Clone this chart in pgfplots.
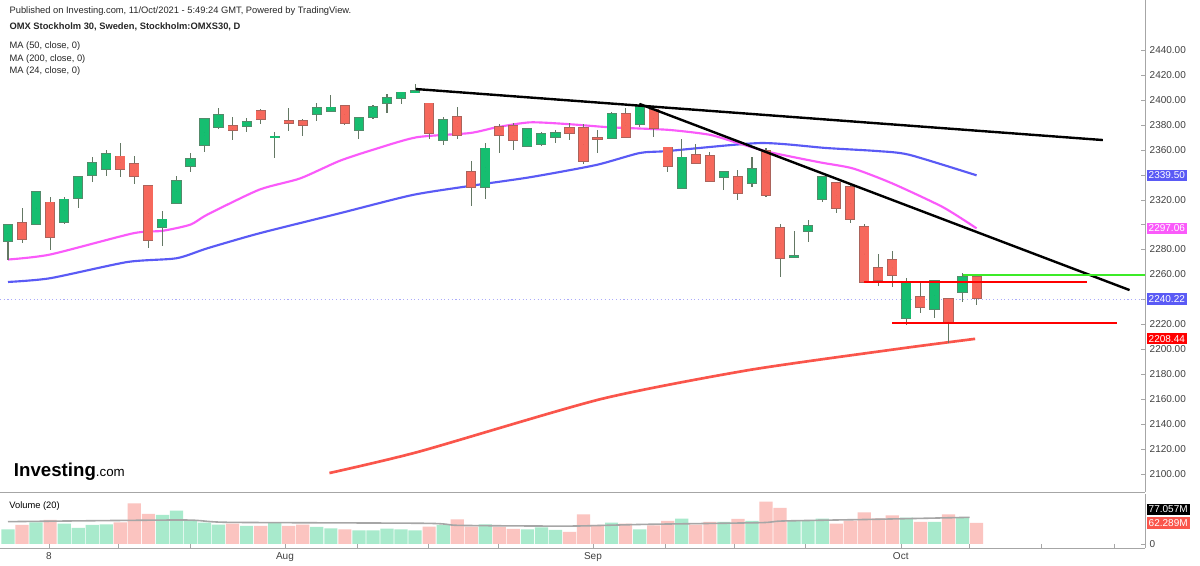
\documentclass[border=0pt]{standalone}
\usepackage{pgfplots}
\usepackage{pgfplotstable}
\pgfplotsset{compat=1.18}
\usepackage{fontspec}
\setmainfont{Liberation Sans}
\definecolor{cg}{RGB}{22,190,112}
\definecolor{cgd}{RGB}{40,110,70}
\definecolor{cr}{RGB}{246,104,92}
\definecolor{crd}{RGB}{150,60,50}
\definecolor{vg}{RGB}{168,234,204}
\definecolor{vr}{RGB}{251,196,192}
\definecolor{mablue}{RGB}{90,90,245}
\definecolor{mapink}{RGB}{250,90,250}
\definecolor{mared}{RGB}{250,85,75}
\definecolor{wick}{RGB}{100,120,100}
\pgfplotstableread{
i o h l c
0 2286.8 2299.7 2271.6 2299.7
2 2300.2 2327.0 2300.0 2326.4
4 2301.8 2322.4 2300.2 2320.2
5 2321.0 2338.5 2313.6 2338.4
6 2340.0 2353.9 2334.4 2349.4
7 2344.6 2359.5 2339.2 2356.6
11 2298.3 2310.9 2283.1 2304.2
12 2317.6 2339.0 2317.6 2335.0
13 2347.2 2357.1 2341.9 2352.6
14 2363.8 2384.7 2358.5 2384.7
15 2378.0 2393.2 2376.4 2388.1
17 2378.8 2385.2 2374.5 2382.0
19 2369.9 2374.5 2353.6 2370.7
22 2388.4 2397.8 2383.3 2393.2
23 2391.3 2403.9 2391.3 2394.0
25 2375.8 2385.5 2368.4 2385.2
26 2386.0 2395.9 2385.0 2394.0
27 2397.2 2404.4 2389.7 2401.8
28 2401.2 2406.5 2396.7 2406.0
29 2406.0 2412.7 2405.2 2407.1
31 2367.8 2386.5 2363.8 2383.9
34 2330.4 2365.1 2320.5 2361.1
37 2363.3 2376.6 2362.5 2376.4
38 2364.3 2374.5 2363.3 2372.6
39 2370.0 2375.8 2365.2 2373.7
43 2369.7 2390.5 2369.5 2388.7
45 2380.4 2397.2 2378.5 2394.6
48 2329.6 2368.4 2328.3 2353.9
51 2337.9 2342.0 2327.7 2341.9
53 2333.1 2354.5 2329.9 2344.3
56 2274.1 2294.9 2274.0 2275.1
57 2294.9 2303.7 2285.8 2299.1
58 2320.5 2338.0 2317.8 2337.9
64 2224.8 2256.9 2219.5 2254.2
66 2232.0 2254.8 2224.8 2254.8
68 2245.7 2261.0 2238.2 2258.3
}\greentab
\pgfplotstableread{
i o h l c
1 2301.0 2313.6 2285.5 2288.7
3 2317.8 2322.4 2279.6 2290.3
8 2354.7 2365.4 2338.4 2344.6
9 2348.6 2355.3 2332.8 2338.7
10 2330.9 2331.0 2281.5 2287.6
16 2378.8 2386.0 2367.8 2376.1
18 2391.3 2392.7 2380.4 2384.7
20 2382.8 2393.2 2375.3 2381.7
21 2382.8 2384.4 2371.3 2379.9
24 2395.4 2396.0 2380.0 2381.2
30 2397.2 2397.5 2369.0 2373.7
32 2386.0 2394.0 2368.6 2371.8
33 2342.4 2351.0 2315.2 2330.4
35 2378.5 2380.4 2357.1 2371.8
36 2379.3 2381.2 2359.8 2367.8
40 2377.7 2381.7 2367.8 2373.2
41 2377.7 2380.4 2348.6 2351.3
42 2369.4 2375.8 2357.6 2369.1
44 2388.7 2393.2 2370.0 2370.5
46 2391.9 2393.7 2370.5 2377.7
47 2361.9 2362.0 2342.4 2347.2
49 2355.8 2364.4 2348.3 2349.7
50 2355.3 2358.5 2335.0 2335.2
52 2337.9 2343.8 2319.7 2325.1
54 2359.3 2361.1 2322.4 2323.7
55 2297.0 2300.2 2258.2 2272.9
59 2333.1 2334.4 2309.5 2313.0
60 2330.4 2333.6 2301.0 2304.2
61 2298.3 2300.2 2254.0 2254.2
62 2265.4 2276.1 2250.7 2255.6
63 2271.6 2278.8 2250.2 2259.6
65 2242.2 2254.8 2229.4 2234.2
67 2240.1 2240.1 2205.0 2221.4
69 2258.3 2259.6 2235.5 2240.9
}\redtab
\pgfplotstableread{
i v
0 44
2 65
4 61
5 48
6 57
7 59
11 87
12 100
13 70
14 64
15 58
17 54
19 63
22 51
23 47
25 41
26 41
27 46
28 44
29 41
31 57
34 59
37 44
38 50
39 42
43 64
45 44
48 76
51 66
53 69
56 69
57 70
58 76
64 79
66 66
68 79
}\volg
\pgfplotstableread{
i v
1 57
3 72
8 65
9 122
10 90
16 61
18 54
20 54
21 58
24 44
30 52
32 74
33 52
35 51
36 45
40 36
41 89
42 57
44 61
46 56
47 69
49 58
50 66
52 75
54 127
55 108
59 61
60 70
61 95
62 77
63 86
65 66
67 89
69 63
}\volr
\pgfplotsset{
  candlewick/.style={only marks, mark size=0pt, forget plot,
    error bars/.cd, y dir=both, y explicit, error mark=none,
    error bar style={line width=0.8pt, color=wick}},
  candlebody/.style 2 args={only marks, mark size=0pt, forget plot,
    error bars/.cd, y dir=both, y explicit, error mark=none,
    error bar style={line width=#1, color=#2}},
}
\begin{document}
\begin{tikzpicture}
\path[use as bounding box, fill=white] (0,0) rectangle (900pt,424.5pt);
\begin{axis}[
  at={(0,424.5pt)}, anchor=north west,
  width=858.75pt, height=369pt, scale only axis, clip=false,
  xmin=-0.57, xmax=81, ymin=2085.6, ymax=2480.1,
  axis x line*=bottom, axis y line*=right,
  axis line style={gray!70},
  xtick=\empty,
  ytick={2100,2120,...,2280,2320,2340,...,2440},
  extra y ticks={2300}, extra y tick labels={},
  yticklabel style={font=\fontsize{7.5}{9}\selectfont, color=black!75},
  /pgf/number format/.cd, fixed, fixed zerofill, precision=2, 1000 sep={}, assume math mode=true,
  /pgfplots/.cd,
  major tick length=3pt, tick style={gray!70},
]
\addplot[mablue!50, dotted, line width=0.8pt, forget plot] coordinates {(-0.57,2240.22) (81,2240.22)};
\addplot[mablue, line width=1.6pt, smooth, tension=0.4] coordinates {(0,2254) (3,2257) (8.5,2270) (12,2273) (14.2,2281) (17.9,2293) (23.6,2309) (28.8,2323.7) (32.9,2331) (37.2,2338) (41.9,2347.8) (45,2357.4) (47,2359) (53.6,2365.4) (58.3,2361.4) (61.9,2359) (64.2,2356) (69,2339.5)};
\addplot[mapink, line width=1.6pt, smooth, tension=0.4] coordinates {(0,2272) (3,2276) (8.9,2293) (11,2295) (13,2300) (14.2,2308) (17.9,2328) (20.8,2337) (23.6,2351) (26,2360) (29.1,2370) (32.9,2373.4) (34.8,2378) (37.2,2382) (40,2380.5) (42.9,2378) (47,2376) (50,2372) (52.1,2365) (54.3,2358) (57.8,2350) (60.2,2345) (63,2333) (66.6,2314) (69,2297)};
\addplot[mared, line width=2pt, smooth, tension=0.4] coordinates {(22.9,2100.8) (29.3,2118) (42.2,2160) (52.8,2183.4) (63.5,2200.5) (68.9,2208.4)};
\addplot[candlewick] table[x=i, y expr={(\thisrow{h}+\thisrow{l})/2}, y error expr={(\thisrow{h}-\thisrow{l})/2}] \greentab;
\addplot[candlewick] table[x=i, y expr={(\thisrow{h}+\thisrow{l})/2}, y error expr={(\thisrow{h}-\thisrow{l})/2}] \redtab;
\addplot[candlebody={7.6pt}{cgd!80}] table[x=i, y expr={(\thisrow{o}+\thisrow{c})/2}, y error expr={max(abs(\thisrow{o}-\thisrow{c})/2,0.4)+0.7}] \greentab;
\addplot[candlebody={6.4pt}{cg}] table[x=i, y expr={(\thisrow{o}+\thisrow{c})/2}, y error expr={max(abs(\thisrow{o}-\thisrow{c})/2,0.4)}] \greentab;
\addplot[candlebody={7.6pt}{crd!80}] table[x=i, y expr={(\thisrow{o}+\thisrow{c})/2}, y error expr={max(abs(\thisrow{o}-\thisrow{c})/2,0.4)+0.7}] \redtab;
\addplot[candlebody={6.4pt}{cr}] table[x=i, y expr={(\thisrow{o}+\thisrow{c})/2}, y error expr={max(abs(\thisrow{o}-\thisrow{c})/2,0.4)}] \redtab;
\addplot[black, line width=1.8pt] coordinates {(29.06,2408.7) (78,2367.8)};
\addplot[black, line width=1.8pt] coordinates {(45,2396.7) (79.9,2247.5)};
\addplot[red, line width=1.8pt] coordinates {(61,2254.2) (76.9,2254.2)};
\addplot[red, line width=1.8pt] coordinates {(63,2221) (79,2221)};
\addplot[line width=1.6pt, color={rgb,255:red,60;green,235;blue,40}] coordinates {(68,2259.4) (81,2259.4)};
\tikzset{plab/.style={anchor=west, inner sep=1.6pt, text=white, font=\fontsize{7.5}{9}\selectfont, xshift=1pt}}
\node[plab, fill=mablue] at (axis cs:81,2339.5) {2339.50};
\node[plab, fill=mapink] at (axis cs:81,2297.06) {2297.06};
\node[plab, fill=mablue] at (axis cs:81,2240.22) {2240.22};
\node[plab, fill=red] at (axis cs:81,2208.44) {2208.44};
\node[anchor=south west, inner sep=0pt, font=\fontsize{14}{16}\selectfont\bfseries] at (rel axis cs:0.012,0.022) {Investing\fontsize{10}{12}\selectfont\mdseries.com};
\end{axis}
\tikzset{htxt/.style={anchor=west, inner sep=0pt, font=\fontsize{7}{8}\selectfont, color=black!85}}
\node[htxt] at (7pt,416.5pt) {Published on Investing.com, 11/Oct/2021 - 5:49:24 GMT, Powered by TradingView.};
\node[htxt, font=\fontsize{7}{8}\selectfont\bfseries] at (7pt,404pt) {OMX Stockholm 30, Sweden, Stockholm:OMXS30, D};
\node[htxt] at (7pt,390pt) {MA (50, close, 0)};
\node[htxt] at (7pt,380.5pt) {MA (200, close, 0)};
\node[htxt] at (7pt,371pt) {MA (24, close, 0)};
\begin{axis}[
  at={(0,54pt)}, anchor=north west,
  width=858.75pt, height=40.5pt, scale only axis, clip=false,
  xmin=-0.57, xmax=81, ymin=-12, ymax=150,
  axis x line*=bottom, axis y line*=right,
  axis line style={gray!70},
  xtick={2.92,7.83,12.96,19.73,24.86,29.91,34.9,41.67,46.8,51.7,56.77,63.6,68.5,73.6,78.8},
  xticklabels={8,,,Aug,,,,Sep,,,,Oct,,,},
  xticklabel style={font=\fontsize{7.5}{9}\selectfont, color=black!75},
  ytick={0}, yticklabels={0},
  yticklabel style={font=\fontsize{7.5}{9}\selectfont, color=black!75},
  major tick length=3pt, tick style={gray!70},
]
\addplot[ybar, bar width=9.9pt, fill=vg, draw=none, forget plot] table[x=i, y=v] \volg;
\addplot[ybar, bar width=9.9pt, fill=vr, draw=none, forget plot] table[x=i, y=v] \volr;
\addplot[gray!70, line width=1.2pt, smooth, tension=0.4] coordinates {(0,67) (12.4,72) (15.7,65) (29.8,62) (32,56) (37.3,54) (40.6,54) (45.5,59) (53.6,64) (55.2,69) (61.7,74) (68.5,80)};
\node[anchor=west, inner sep=1.6pt, fill=black, text=white, font=\fontsize{7.5}{9}\selectfont, xshift=1pt] at (axis cs:81,104) {77.057M};
\node[anchor=west, inner sep=1.6pt, fill=mared, text=white, font=\fontsize{7.5}{9}\selectfont, xshift=1pt] at (axis cs:81,63) {62.289M};
\node[anchor=west, inner sep=0pt, font=\fontsize{7}{8}\selectfont] at (rel axis cs:0.008,0.78) {Volume (20)};
\end{axis}
\end{tikzpicture}
\end{document}
